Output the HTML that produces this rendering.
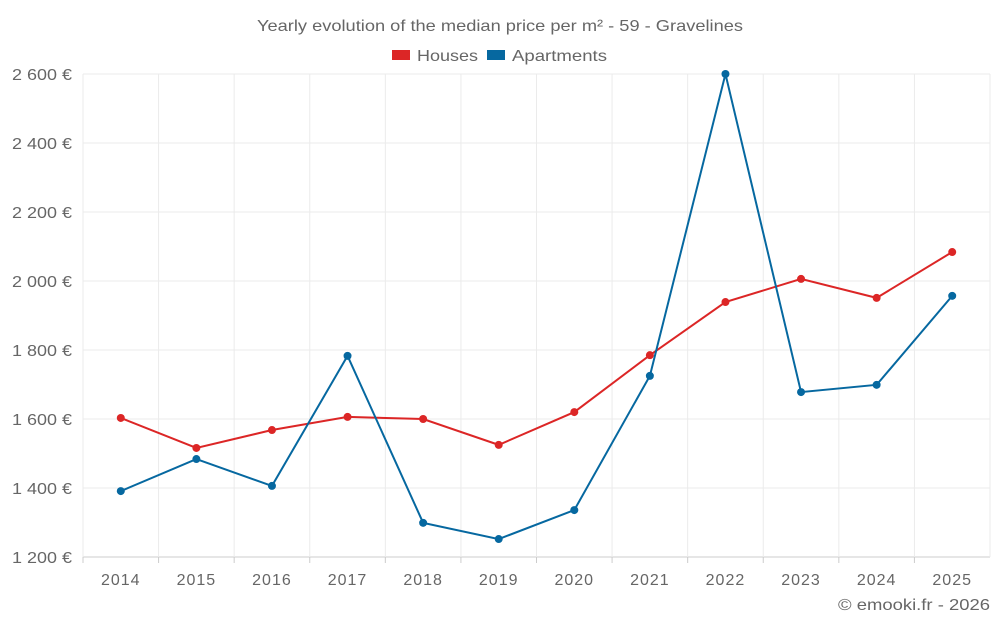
<!DOCTYPE html>
<html><head><meta charset="utf-8"><style>
html,body{margin:0;padding:0;background:#fff;}
svg{display:block;font-family:"Liberation Sans",sans-serif;}
</style></head><body>
<svg id="chart" width="1000" height="625" viewBox="0 0 1000 625" xmlns="http://www.w3.org/2000/svg">
<text x="500" y="31" text-anchor="middle" font-size="16" fill="#666" textLength="486" lengthAdjust="spacingAndGlyphs">Yearly evolution of the median price per m² - 59 - Gravelines</text>
<g>
<g><rect x="392" y="50" width="18" height="10" fill="#dc2626"/><text x="417" y="61" font-size="16" fill="#666" textLength="61" lengthAdjust="spacingAndGlyphs">Houses</text></g>
<g><rect x="487" y="50" width="18" height="10" fill="#0668a0"/><text x="512" y="61" font-size="16" fill="#666" textLength="95" lengthAdjust="spacingAndGlyphs">Apartments</text></g>
</g>
<g id="grid"></g>
<g id="axes"></g>
<g id="series"></g>
<text x="838" y="610" font-size="16" fill="#666" textLength="152" lengthAdjust="spacingAndGlyphs">© emooki.fr - 2026</text>
</svg>
<script>
const years = ['2014','2015','2016','2017','2018','2019','2020','2021','2022','2023','2024','2025'];
const houses = [1603,1516,1568,1606,1600,1525,1620,1785,1939,2006,1951,2084];
const apartments = [1391,1484,1406,1783,1299,1252,1336,1725,2600,1678,1699,1957];
const yTicks = [1200,1400,1600,1800,2000,2200,2400,2600];
const yTickLabels = ['1 200 €','1 400 €','1 600 €','1 800 €','2 000 €','2 200 €','2 400 €','2 600 €'];

const NS='http://www.w3.org/2000/svg';
const L=83,R=990,T=74,B=557,yMin=1200,yMax=2600;
const step=(R-L)/years.length;
const x=i=>L+step*(i+0.5);
const y=v=>B-(v-yMin)/(yMax-yMin)*(B-T);
function mk(tag,attrs,parent){const e=document.createElementNS(NS,tag);for(const k in attrs)e.setAttribute(k,attrs[k]);parent.appendChild(e);return e;}
const grid=document.getElementById('grid'),axes=document.getElementById('axes'),series=document.getElementById('series');
yTicks.forEach((t,i)=>{
  const gl=mk('line',{x1:L,x2:R,y1:y(t),y2:y(t),stroke:i===0?'#ccc':'#ebebeb','stroke-width':1},grid);
  
  
  const tx=mk('text',{x:12,y:y(t)+6,'font-size':16,fill:'#666',textLength:60,lengthAdjust:'spacingAndGlyphs'},axes);
  tx.textContent=yTickLabels[i];
  
  
});
for(let i=0;i<=years.length;i++){
  const gl=mk('line',{x1:L+step*i,x2:L+step*i,y1:T,y2:B,stroke:'#ebebeb','stroke-width':1},grid);
  
  
}
years.forEach((yr,i)=>{
  const tk=mk('line',{x1:L+step*i,x2:L+step*i,y1:B,y2:B+6,stroke:'#ccc'},axes);
  
  
  const tx=mk('text',{x:x(i),y:585,'text-anchor':'middle','font-size':16,fill:'#666','letter-spacing':1},axes);
  tx.textContent=yr;
  
  
});
function draw(vals,color,name){
  const pl=mk('polyline',{points:vals.map((v,i)=>x(i)+','+y(v)).join(' '),fill:'none',stroke:color,'stroke-width':2},series);
  
  
  vals.forEach((v,i)=>{
    const c=mk('circle',{cx:x(i),cy:y(v),r:4,fill:color},series);
    
    
  });
}
draw(houses,'#dc2626','houses');
draw(apartments,'#0668a0','apartments');
</script>
</body></html>
